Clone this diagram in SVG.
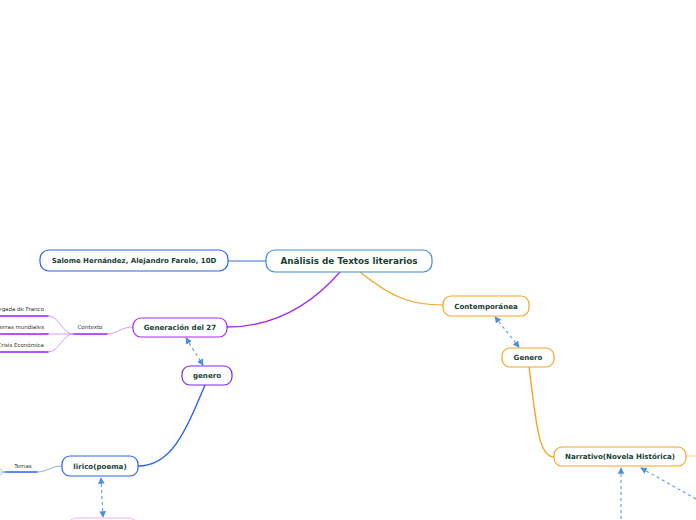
<svg xmlns="http://www.w3.org/2000/svg" width="696" height="520" viewBox="0 0 696 520">
<defs>
<marker id="ah" viewBox="0 0 8 8" refX="7" refY="4" markerWidth="6" markerHeight="6" orient="auto-start-reverse">
<path d="M0,0 L8,4 L0,8 z" fill="#4a90e2"/>
</marker>
<style>
.node rect{fill:#fff;stroke-width:1.2}
.t{font-family:"DejaVu Sans",Verdana,sans-serif;font-weight:bold;fill:#173f35;text-anchor:middle;dominant-baseline:central}
.s{font-family:"DejaVu Sans",Verdana,sans-serif;fill:#333;font-size:5.5px;dominant-baseline:central}
.c{fill:none;stroke-linecap:round}
.d{fill:none;stroke:#5a9be6;stroke-width:1.1;stroke-dasharray:3,3}
</style>
</defs>
<rect width="696" height="520" fill="#fff"/>
<g id="connectors">
<line class="c" x1="228" y1="261" x2="266" y2="261" stroke="#3a6fe0" stroke-width="1"/>
<path class="c" d="M340,272 C305,312 265,327 227,327" stroke="#a628f0" stroke-width="1.3"/>
<path class="c" d="M360,272 C392,298 412,305 443,305" stroke="#f5a623" stroke-width="1.2"/>
<path class="c" d="M529,367 C536,420 538,457 554,457" stroke="#f5a623" stroke-width="1.4"/>
<line class="c" x1="686" y1="456" x2="696" y2="456" stroke="#fbd08a" stroke-width="1.2"/>
<path class="c" d="M205,385 C186,430 172,466 138,466" stroke="#2b62ee" stroke-width="1.4"/>
<path class="d" d="M495,317 L519,347" marker-start="url(#ah)" marker-end="url(#ah)"/>
<path class="d" d="M186,338 L203,365" marker-start="url(#ah)" marker-end="url(#ah)"/>
<path class="d" d="M101,478 L103,517" marker-start="url(#ah)" marker-end="url(#ah)"/>
<path class="d" d="M621,468 L621,520" marker-start="url(#ah)"/>
<path class="d" d="M641,468 L696,499" marker-start="url(#ah)"/>
<path class="c" d="M133,327 C120,327 118,334 107,334" stroke="#d59cf5" stroke-width="1"/>
<line class="c" x1="73" y1="334" x2="107" y2="334" stroke="#a020f0" stroke-width="1.4"/>
<path class="c" d="M73,334 C62,334 60,316 48,316" stroke="#d59cf5" stroke-width="1"/>
<path class="c" d="M73,334 L48,334" stroke="#d59cf5" stroke-width="1"/>
<path class="c" d="M73,334 C62,334 60,352 48,352" stroke="#d59cf5" stroke-width="1"/>
<line class="c" x1="0" y1="316" x2="48" y2="316" stroke="#a020f0" stroke-width="1.4"/>
<line class="c" x1="0" y1="334" x2="48" y2="334" stroke="#a020f0" stroke-width="1.4"/>
<line class="c" x1="0" y1="352" x2="48" y2="352" stroke="#a020f0" stroke-width="1.4"/>
<path class="c" d="M62,466 C50,466 48,472 37,472" stroke="#8fb0f5" stroke-width="1"/>
<line class="c" x1="5" y1="472" x2="37" y2="472" stroke="#2b62ee" stroke-width="1.4"/>
<path class="c" d="M5,472 C2,472 1,468 -2,467" stroke="#8fb0f5" stroke-width="0.8"/>
<path class="c" d="M5,472 L-2,472" stroke="#8fb0f5" stroke-width="0.8"/>
<path class="c" d="M5,472 C2,472 1,476 -2,477" stroke="#8fb0f5" stroke-width="0.8"/>
</g>
<g id="n-main" class="node"><rect x="266" y="250" width="166" height="22" rx="9" stroke="#3b8fd9"/><text class="t" x="349" y="261" font-size="8.8">Análisis de Textos literarios</text></g>
<g id="n-autores" class="node"><rect x="40" y="250" width="188" height="21" rx="9" stroke="#2b62ee"/><text class="t" x="134" y="260.5" font-size="7">Salome Hernández, Alejandro Farelo, 10D</text></g>
<g id="n-gen27" class="node"><rect x="133" y="318" width="94" height="19" rx="8" stroke="#a628f0"/><text class="t" x="180" y="327.5" font-size="7.1">Generación del 27</text></g>
<g id="n-genero-p" class="node"><rect x="182" y="366" width="50" height="19" rx="8" stroke="#7a28f0"/><text class="t" x="207" y="375.5" font-size="7.1">genero</text></g>
<g id="n-lirico" class="node"><rect x="62" y="456" width="76" height="20" rx="8" stroke="#2b62ee"/><text class="t" x="100" y="466" font-size="7.1">lirico(poema)</text></g>
<g id="n-pink" class="node"><rect x="68" y="518" width="69" height="20" rx="8" stroke="#f2b3f2"/></g>
<g id="n-contemp" class="node"><rect x="443" y="296" width="86" height="20" rx="8" stroke="#f5a623"/><text class="t" x="486" y="306" font-size="7.1">Contemporánea</text></g>
<g id="n-genero-o" class="node"><rect x="502" y="348" width="52" height="19" rx="8" stroke="#f5a623"/><text class="t" x="528" y="357.5" font-size="7.1">Genero</text></g>
<g id="n-narrativo" class="node"><rect x="554" y="447" width="132" height="19" rx="8" stroke="#f5a623"/><text class="t" x="620" y="456.5" font-size="7.1">Narrativo(Novela Histórica)</text></g>
<g id="n-contexto"><text class="s" x="90" y="327" text-anchor="middle">Contexto</text></g>
<g id="n-franco"><text class="s" x="44" y="309" text-anchor="end">Llegada de Franco</text></g>
<g id="n-guerras"><text class="s" x="44" y="327" text-anchor="end">Guerras mundiales</text></g>
<g id="n-crisis"><text class="s" x="44" y="345" text-anchor="end">Crisis Económica</text></g>
<g id="n-temas"><text class="s" x="23" y="466" text-anchor="middle">Temas</text></g>
</svg>
